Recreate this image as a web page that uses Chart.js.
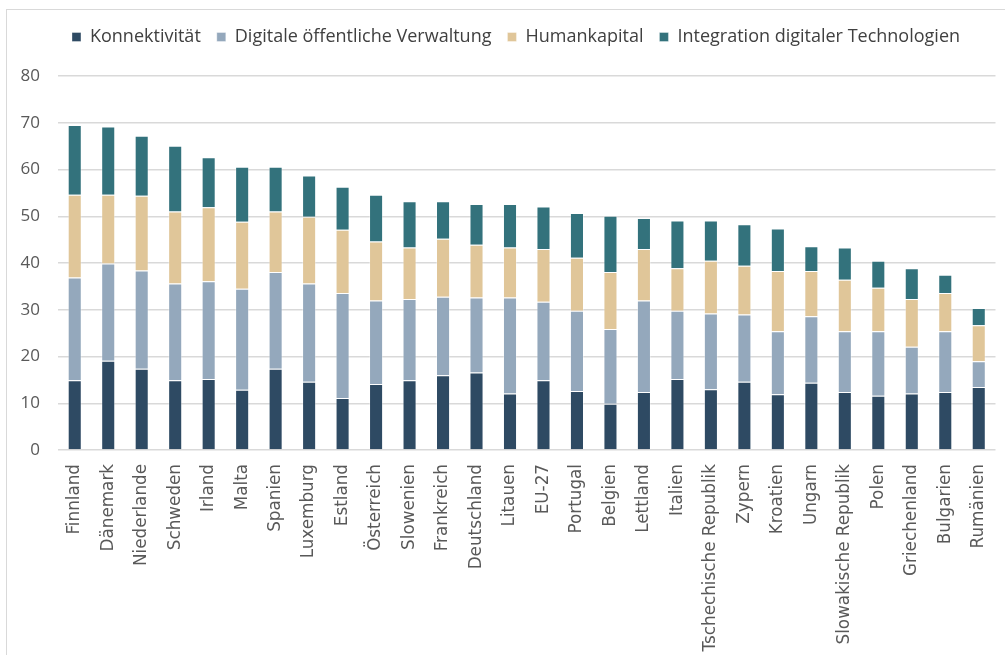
<!DOCTYPE html>
<html>
<head>
<meta charset="utf-8">
<script src="https://cdn.jsdelivr.net/npm/chart.js@4"></script>
<style>
  html, body { margin: 0; padding: 0; background: #fff; }
  #wrap { position: relative; width: 1005px; height: 655px; overflow: hidden; }
  #frame { position: absolute; left: 6px; top: 9px; width: 1010px; height: 660px; border-left: 1px solid #d9d9d9; border-top: 1px solid #d9d9d9; }
  canvas { position: absolute; left: 0; top: 0; }
</style>
</head>
<body>
<div id="wrap">
  <div id="frame"></div>
  <canvas id="c" width="1005" height="655"></canvas>
</div>
<script>
const categories = ["Finnland","Dänemark","Niederlande","Schweden","Irland","Malta","Spanien","Luxemburg","Estland","Österreich","Slowenien","Frankreich","Deutschland","Litauen","EU-27","Portugal","Belgien","Lettland","Italien","Tschechische Republik","Zypern","Kroatien","Ungarn","Slowakische Republik","Polen","Griechenland","Bulgarien","Rumänien"];
const konnektivitaet = [14.9,19.1,17.4,14.9,15.2,12.9,17.4,14.6,11.1,14.1,14.9,16.0,16.6,12.1,14.9,12.6,9.9,12.4,15.2,13.0,14.6,11.9,14.4,12.4,11.6,12.1,12.4,13.5];
const verwaltung = [22.0,20.8,21.0,20.7,20.9,21.6,20.7,21.0,22.5,17.9,17.4,16.8,16.0,20.5,16.8,17.2,16.0,19.6,14.6,16.2,14.4,13.5,14.2,13.0,13.8,10.0,13.0,5.5];
const humankapital = [17.7,14.7,16.0,15.4,15.8,14.3,12.9,14.3,13.5,12.6,11.0,12.4,11.3,10.7,11.3,11.3,12.2,11.0,9.1,11.3,10.4,12.9,9.7,11.0,9.3,10.2,8.2,7.7];
const integration = [14.9,14.6,12.8,14.1,10.7,11.8,9.6,8.8,9.2,10.0,9.9,8.0,8.7,9.3,9.1,9.6,12.0,6.6,10.2,8.6,8.9,9.1,5.3,6.9,5.8,6.6,3.9,3.7];
const seriesNames = ["Konnektivität","Digitale öffentliche Verwaltung","Humankapital","Integration digitaler Technologien"];
const yTicks = [0,10,20,30,40,50,60,70,80];

const colors = ["#2e4a63","#94a8bc","#e0c699","#33727c"];
const seriesData = [konnektivitaet, verwaltung, humankapital, integration];

const legendSpace = {
  id: 'legendSpace',
  beforeLayout(chart) {
    const lg = chart.legend;
    if (lg && !lg._patched) {
      const orig = lg.fit;
      lg.fit = function () { orig.call(this); this.height += 20; };
      lg._patched = true;
    }
  },
  afterLayout(chart) {
    const lg = chart.legend;
    if (lg) { lg.left += 16; lg.right += 16; }
  }
};

new Chart(document.getElementById('c'), {
  type: 'bar',
  data: {
    labels: categories,
    datasets: seriesData.map((d, i) => ({
      label: seriesNames[i],
      data: d,
      backgroundColor: colors[i],
      borderColor: 'rgba(255,255,255,0.35)',
      borderWidth: 1,
      categoryPercentage: 1,
      barPercentage: 0.42
    }))
  },
  plugins: [legendSpace],
  options: {
    responsive: false,
    animation: false,
    layout: { padding: { left: 0, right: 5, top: 12, bottom: 0 } },
    plugins: {
      legend: {
        position: 'top',
        labels: {
          boxWidth: 9, boxHeight: 9, padding: 16,
          color: '#404040',
          font: { family: 'Open Sans', size: 18 }
        }
      },
      tooltip: { enabled: false }
    },
    scales: {
      x: {
        stacked: true,
        grid: { display: false },
        border: { display: false },
        ticks: {
          minRotation: 90, maxRotation: 90, autoSkip: false,
          color: '#595959',
          font: { family: 'DejaVu Sans', size: 16.8 },
          padding: 6
        },
        afterFit: s => { s.height = 205; }
      },
      y: {
        stacked: true,
        min: 0, max: 80,
        afterBuildTicks: s => { s.ticks = yTicks.map(v => ({ value: v })); },
        grid: { color: '#d9d9d9', lineWidth: 1.5, drawTicks: false },
        border: { display: false },
        ticks: {
          color: '#595959',
          font: { family: 'Open Sans', size: 17 },
          padding: 18
        },
        afterFit: s => { s.width = 58; }
      }
    }
  }
});
</script>
</body>
</html>
